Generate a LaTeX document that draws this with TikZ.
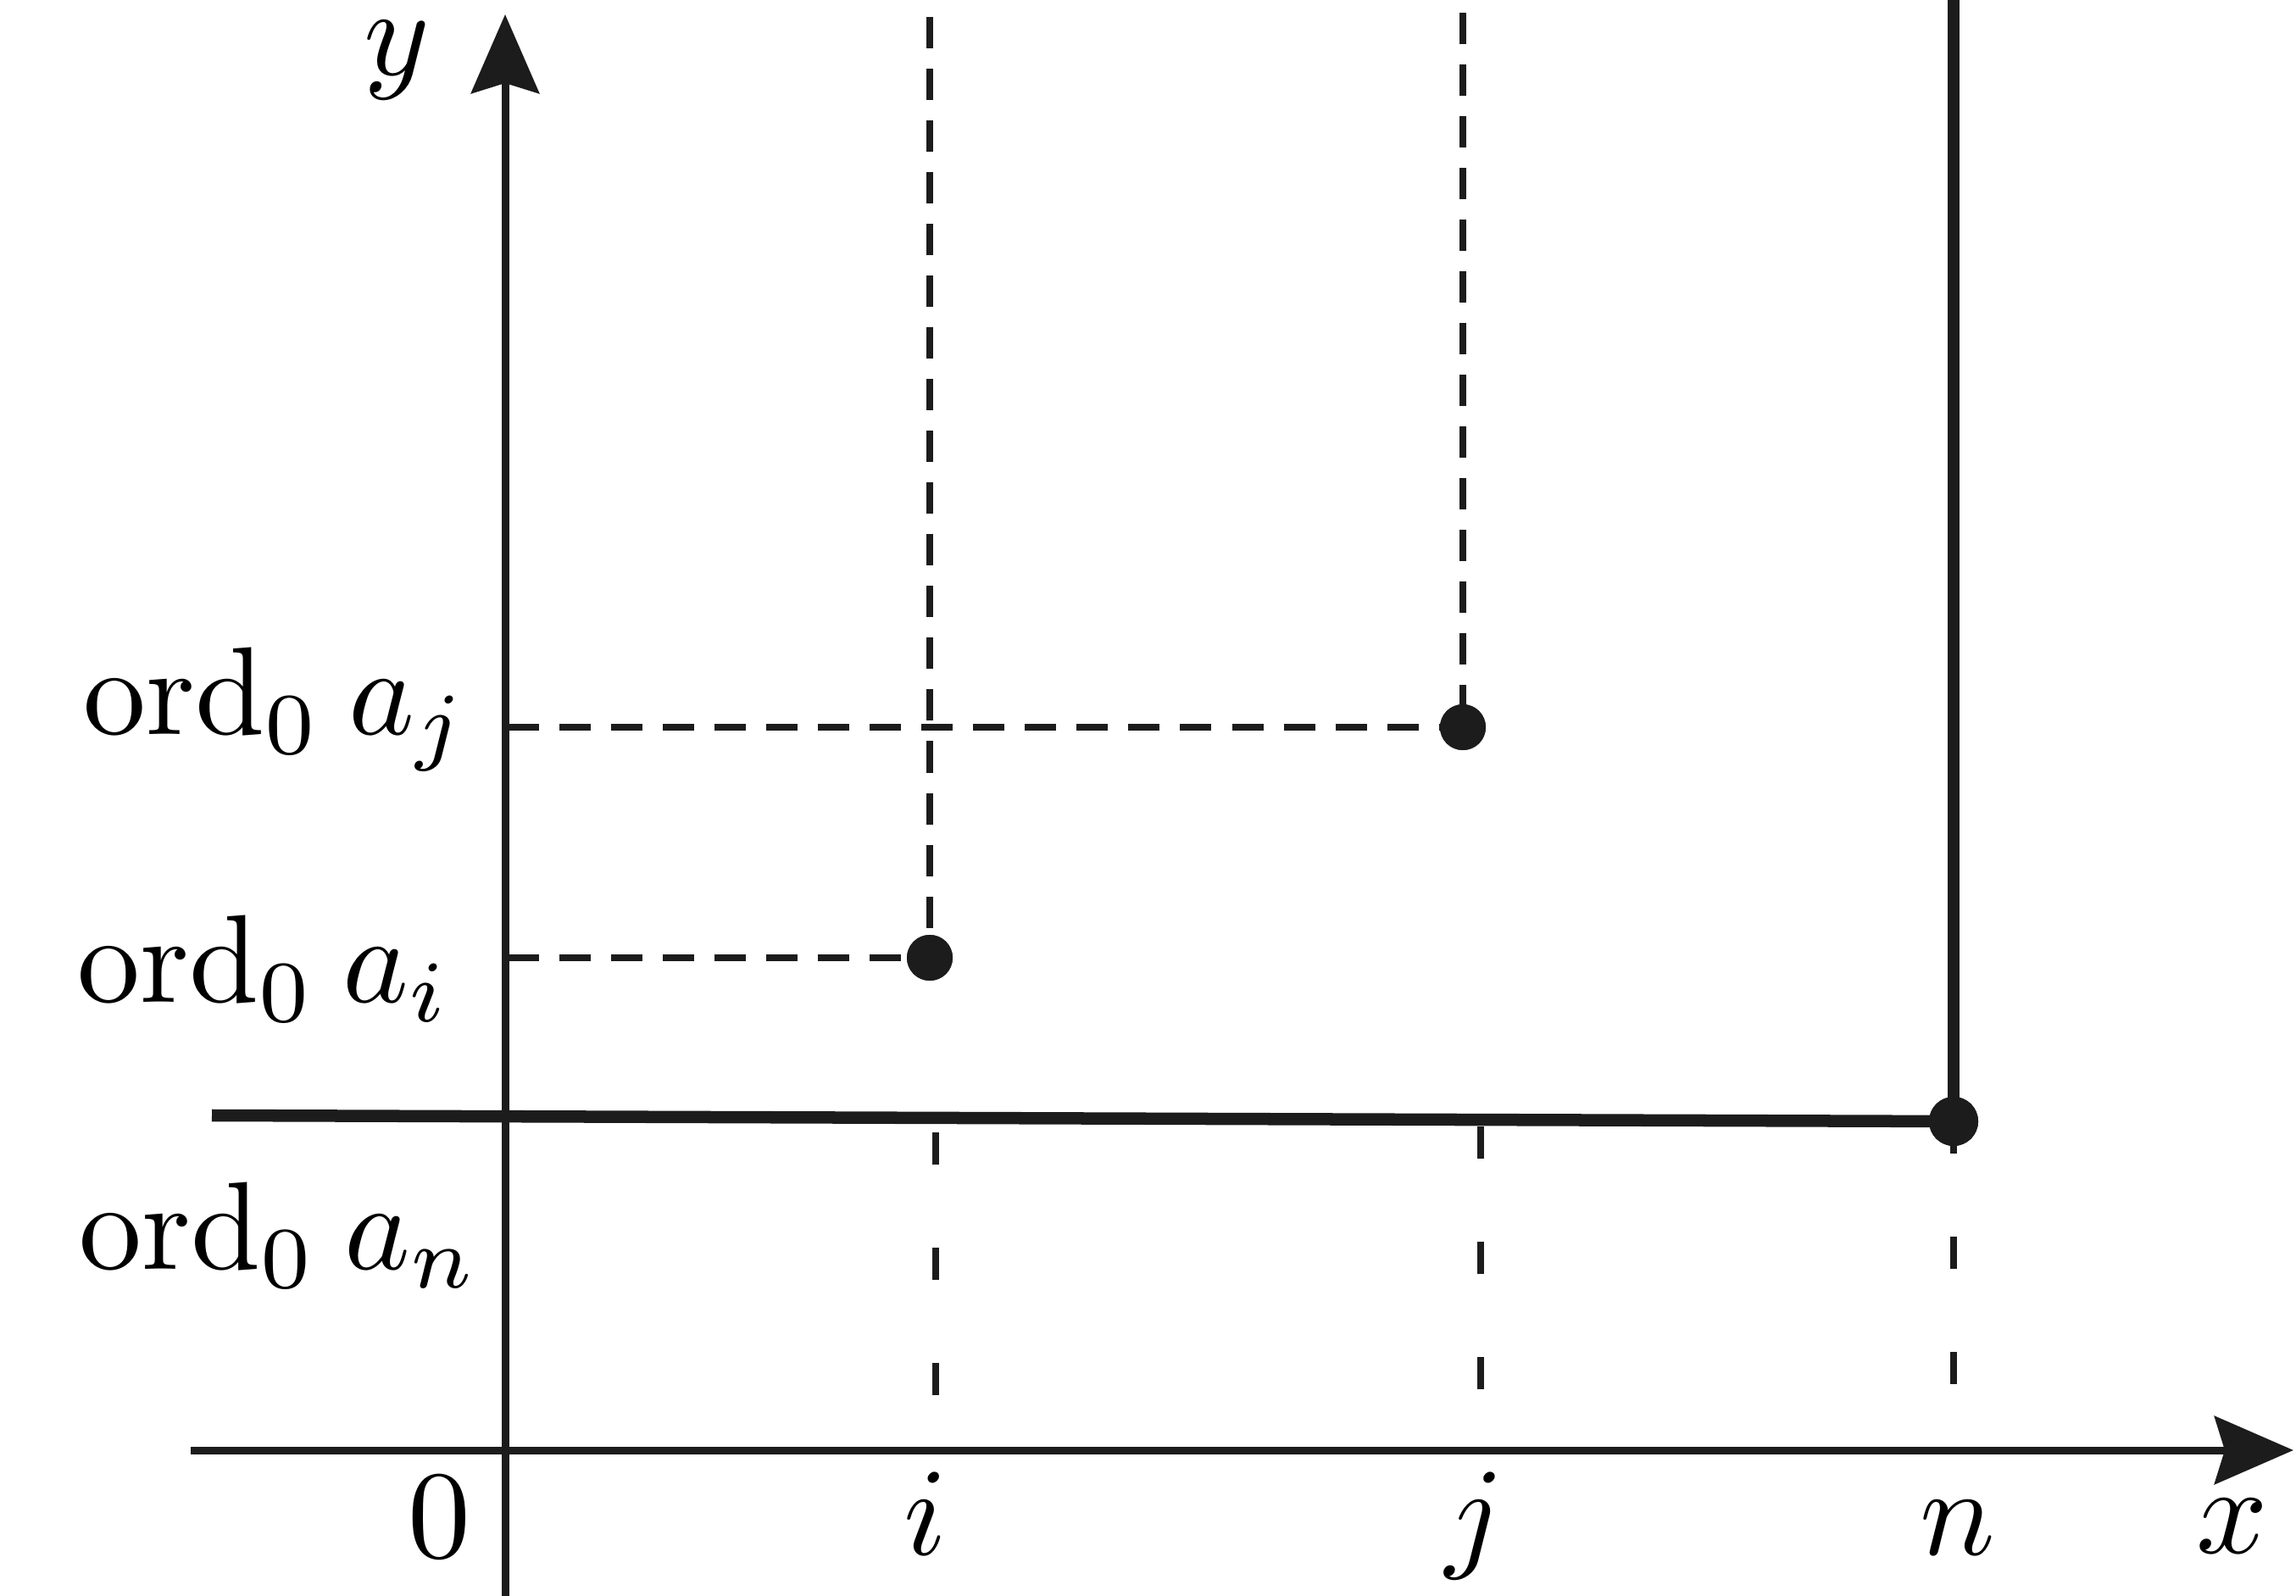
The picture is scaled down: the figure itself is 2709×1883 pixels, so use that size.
\documentclass[tikz,border=0pt]{standalone}
\usetikzlibrary{arrows.meta}
\definecolor{ink}{HTML}{1C1C1C}
\begin{document}
\begin{tikzpicture}[x=0.01cm,y=-0.01cm,
  axisline/.style={line width=0.09cm, draw=ink, -{Stealth[length=0.93cm,width=0.8cm,inset=0.12cm]}},
  thickline/.style={line width=0.145cm, draw=ink},
  dashup/.style={line width=0.08cm, draw=ink, dash pattern=on 0.37cm off 0.24cm},
  dashlow/.style={line width=0.08cm, draw=ink, dash pattern=on 0.38cm off 0.98cm},
  dotnode/.style={circle, fill=ink, inner sep=0pt, minimum size=0.54cm},
  lbl/.style={scale=4.2, inner sep=0pt, anchor=base},
  lbll/.style={scale=4.2, inner sep=0pt, anchor=base west}]
\useasboundingbox (0,0) rectangle (2709,1883);
% coordinates
\coordinate (yb) at (596,1883);
\coordinate (yt) at (596,17);
\coordinate (xl) at (225,1711);
\coordinate (xr) at (2706,1711);
\coordinate (ti) at (1097,20);
\coordinate (tj) at (1726,15);
\coordinate (tn) at (2305,0);
\coordinate (hj) at (599,858);
\coordinate (hi) at (599,1130);
\coordinate (ls) at (250,1316);
\coordinate (li1) at (1104,1336);
\coordinate (li2) at (1104,1646);
\coordinate (lj1) at (1747,1329);
\coordinate (lj2) at (1747,1639);
\coordinate (ln1) at (2305,1323);
\coordinate (ln2) at (2305,1633);
% points
\node[dotnode] (pi) at (1097,1130) {};
\node[dotnode] (pj) at (1726,858) {};
\node[dotnode, minimum size=0.58cm] (pn) at (2305,1323) {};
% dashed guides
\draw[dashup] (ti) -- (pi.center);
\draw[dashup] (tj) -- (pj.center);
\draw[dashup] (hj) -- (pj.center);
\draw[dashup] (hi) -- (pi.center);
\draw[dashlow] (li1) -- (li2);
\draw[dashlow] (lj1) -- (lj2);
\draw[dashlow] (ln1) -- (ln2);
% solid lines
\draw[thickline] (ls) -- (pn.center);
\draw[thickline] (tn) -- (pn.center);
% axes
\draw[axisline] (yb) -- (yt);
\draw[axisline] (xl) -- (xr);
% redraw dots on top
\fill[ink] (pi) circle[radius=0.27cm];
\fill[ink] (pj) circle[radius=0.27cm];
\fill[ink] (pn) circle[radius=0.29cm];
% labels
\node[lbl] (ly) at (468,89) {$y$};
\node[lbl] (lx) at (2634,1832) {$x$};
\node[lbl] (l0) at (518,1837) {$0$};
\node[lbl] (lI) at (1092,1834) {$i$};
\node[lbl] (lJ) at (1740,1834) {$j$};
\node[lbl] (lN) at (2310,1834) {$n$};
\node[lbll] (oj) at (96,867) {$\mathrm{ord}_0\mkern4mu a_j$};
\node[lbll] (oi) at (89,1183) {$\mathrm{ord}_0\mkern4mu a_i$};
\node[lbll] (on) at (91,1497) {$\mathrm{ord}_0\mkern4mu a_n$};
\end{tikzpicture}
\end{document}
